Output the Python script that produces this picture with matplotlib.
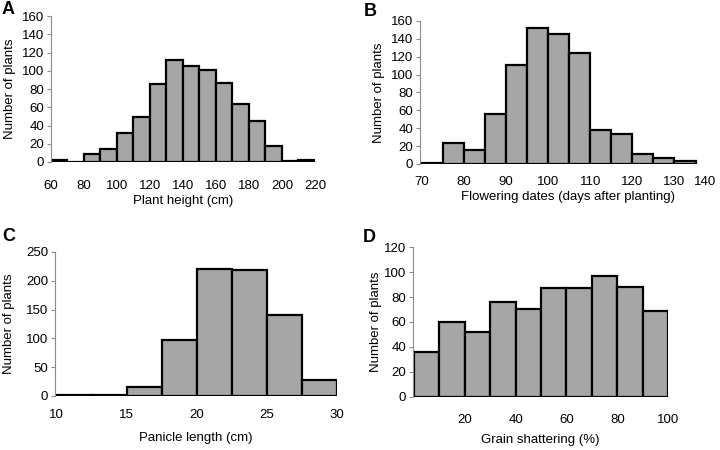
import numpy as np
import matplotlib.pyplot as plt

plt.rcParams['font.family'] = ['Liberation Sans', 'DejaVu Sans']
plt.rcParams['font.size'] = 9

# A: plant height, 10 cm bins from 60
height_edges = np.arange(60, 230, 10)
height_counts = [2, 0, 9, 14, 32, 49, 86, 112, 105, 101, 87, 64, 45, 18, 1, 2]

# B: flowering dates, 5 day bins from 70
flower_edges = np.arange(70, 140, 5)
flower_counts = [1, 23, 16, 56, 111, 152, 145, 124, 38, 33, 11, 7, 3]

# C: panicle length, 2.5 cm bins from 10
panicle_edges = np.arange(10, 32.5, 2.5)
panicle_counts = [2, 2, 16, 97, 221, 218, 141, 28]

# D: grain shattering, 10 % bins from 0
shatter_edges = np.arange(0, 110, 10)
shatter_counts = [36, 60, 52, 76, 70, 87, 87, 97, 88, 69]

fig = plt.figure(figsize=(7.2, 4.5), dpi=100)
W, H = 720, 450

panels = [
    # letter, letter pos (px), rect, edges, counts, xlim, xticks, ymax, ystep,
    # xlabel, tick pad, xlabelpad, ylabelpad
    ('A', (2, 10), [0.0708, 0.640, 0.3667, 0.3244], height_edges, height_counts,
     (60, 220), np.arange(60, 240, 20), 160, 20, 'Plant height (cm)', 13, 2, 4),
    ('B', (364, 11), [0.5833, 0.6356, 0.4120, 0.3178], flower_edges, flower_counts,
     (69.6, 140), np.arange(70, 150, 10), 160, 20,
     'Flowering dates (days after planting)', 9, 2, 4),
    ('C', (2, 237), [0.0764, 0.1200, 0.3920, 0.3200], panicle_edges, panicle_counts,
     (9.9, 30), np.arange(10, 35, 5), 250, 50, 'Panicle length (cm)', 9, 8, 8),
    ('D', (363, 238), [0.5736, 0.1178, 0.3546, 0.3333], shatter_edges, shatter_counts,
     (-0.3, 100), np.arange(20, 120, 20), 120, 20, 'Grain shattering (%)', 12, 6, 1),
]

for (letter, lpos, rect, edges, counts, xlim, xticks, ymax, ystep,
     xlabel, tpad, xlpad, ylpad) in panels:
    ax = fig.add_axes(rect)
    widths = np.diff(edges)
    ax.bar(edges[:-1], counts, width=widths, align='edge',
           color='#a6a6a6', edgecolor='black', linewidth=1.6)
    ax.set_xlim(*xlim)
    ax.set_ylim(0, ymax)
    ax.set_yticks(np.arange(0, ymax + 1, ystep))
    ax.set_xticks(xticks)
    for s in ['top', 'right', 'bottom']:
        ax.spines[s].set_visible(False)
    ax.spines['left'].set_color('#8c8c8c')
    ax.spines['left'].set_linewidth(0.8)
    ax.tick_params(axis='y', direction='out', length=3, width=0.8,
                   color='#8c8c8c', labelsize=9.5, pad=2)
    ax.tick_params(axis='x', length=0, labelsize=9.5, pad=tpad)
    ax.set_xlabel(xlabel, fontsize=9.5, labelpad=xlpad)
    ax.set_ylabel('Number of plants', fontsize=9.5, labelpad=ylpad)
    if letter == 'B':
        ax.get_xticklabels()[-1].set_horizontalalignment('right')
    fig.text(lpos[0] / W, 1 - lpos[1] / H, letter,
             fontsize=13, fontweight='bold', va='center', ha='left')

fig.savefig('out.png', dpi=100)
